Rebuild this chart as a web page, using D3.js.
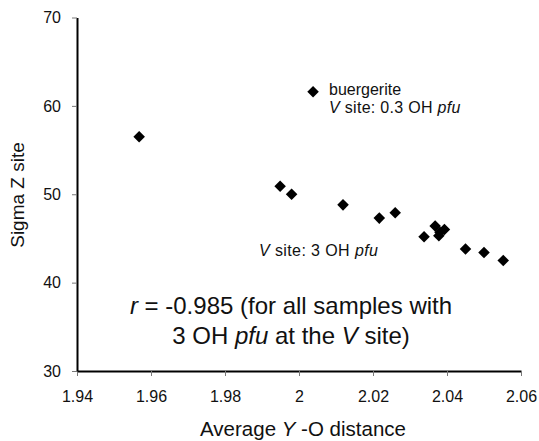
<!DOCTYPE html>
<html>
<head>
<meta charset="utf-8">
<script src="https://cdn.jsdelivr.net/npm/d3@7"></script>
<style>
  body { margin: 0; background: #fff; }
  svg { font-family: "Liberation Sans", Arial, sans-serif; }
</style>
</head>
<body>
<svg width="539" height="441"></svg>
<script>
// Average Y-O distance vs Sigma Z site
const yoDistance = [1.9568, 2.0038, 1.9949, 1.9980, 2.0119, 2.0217, 2.0260, 2.0338,
                    2.0368, 2.0378, 2.0393, 2.0381, 2.0450, 2.0500, 2.0552];
const sigmaZ     = [56.5, 61.6, 50.9, 50.0, 48.8, 47.3, 47.9, 45.2,
                    46.4, 45.3, 46.0, 45.7, 43.8, 43.4, 42.5];
const xTicks = [1.94, 1.96, 1.98, 2.00, 2.02, 2.04, 2.06];
const yTicks = [30, 40, 50, 60, 70];

const svg = d3.select("svg");
const margin = { top: 17.5, left: 77 };
const innerWidth = 521 - margin.left;
const innerHeight = 371 - margin.top;

const g = svg.append("g")
  .attr("transform", `translate(${margin.left},${margin.top})`);

const x = d3.scaleLinear().domain([1.94, 2.06]).range([0, innerWidth]);
const y = d3.scaleLinear().domain([30, 70]).range([innerHeight, 0]);

// x axis
const xAxis = g.append("g")
  .attr("transform", `translate(0,${innerHeight})`)
  .call(d3.axisBottom(x).tickValues(xTicks).tickSize(5).tickSizeOuter(0)
    .tickFormat(d => String(+d.toFixed(2))));
xAxis.select(".domain").attr("stroke-width", 2);
xAxis.selectAll("text").attr("font-size", 16).attr("dy", "1.45em").attr("fill", "#111");

// y axis
const yAxis = g.append("g")
  .call(d3.axisLeft(y).tickValues(yTicks).tickSize(5).tickSizeOuter(0));
yAxis.select(".domain").attr("stroke-width", 2);
yAxis.selectAll("text").attr("font-size", 16).attr("dx", "-0.5em").attr("fill", "#111");
yAxis.selectAll(".tick line").attr("stroke", "#777");
xAxis.selectAll(".tick line").attr("stroke", "#777");

// text with italic parts
function rich(parent, xPos, yPos, parts, size, anchor, transform) {
  const t = parent.append("text")
    .attr("x", xPos).attr("y", yPos)
    .attr("font-size", size)
    .attr("text-anchor", anchor || "start")
    .attr("fill", "#111");
  if (transform) t.attr("transform", transform);
  parts.forEach(p => {
    t.append("tspan")
      .attr("font-style", p[1] ? "italic" : "normal")
      .text(p[0]);
  });
  return t;
}

rich(svg, 303, 436, [["Average ", false], ["Y", true], [" -O distance", false]], 20.5, "middle");
rich(svg, 0, 0, [["Sigma Z site", false]], 19, "middle",
  "translate(24,195) rotate(-90)");

// points
const pts = yoDistance.map((d, i) => ({ x: d, y: sigmaZ[i] }));
g.selectAll("path.pt")
  .data(pts)
  .enter().append("path")
    .attr("class", "pt")
    .attr("d", d3.symbol().type(d3.symbolDiamond2).size(85))
    .attr("transform", d => `translate(${x(d.x)},${y(d.y)})`)
    .attr("fill", "#000");

rich(svg, 329, 95, [["buergerite", false]], 16);
rich(svg, 329, 113, [["V", true], ["  site: 0.3 OH ", false], ["pfu", true]], 16)
  .attr("letter-spacing", 0.3);
rich(svg, 259, 256, [["V", true], ["  site: 3 OH ", false], ["pfu", true]], 16)
  .attr("letter-spacing", 0.4);

rich(svg, 291, 314, [["r", true], [" = -0.985 (for all samples with", false]], 24, "middle");
rich(svg, 291, 344, [["3 OH ", false], ["pfu", true], ["  at the ", false], ["V", true], [" site)", false]], 24, "middle");
</script>
</body>
</html>
